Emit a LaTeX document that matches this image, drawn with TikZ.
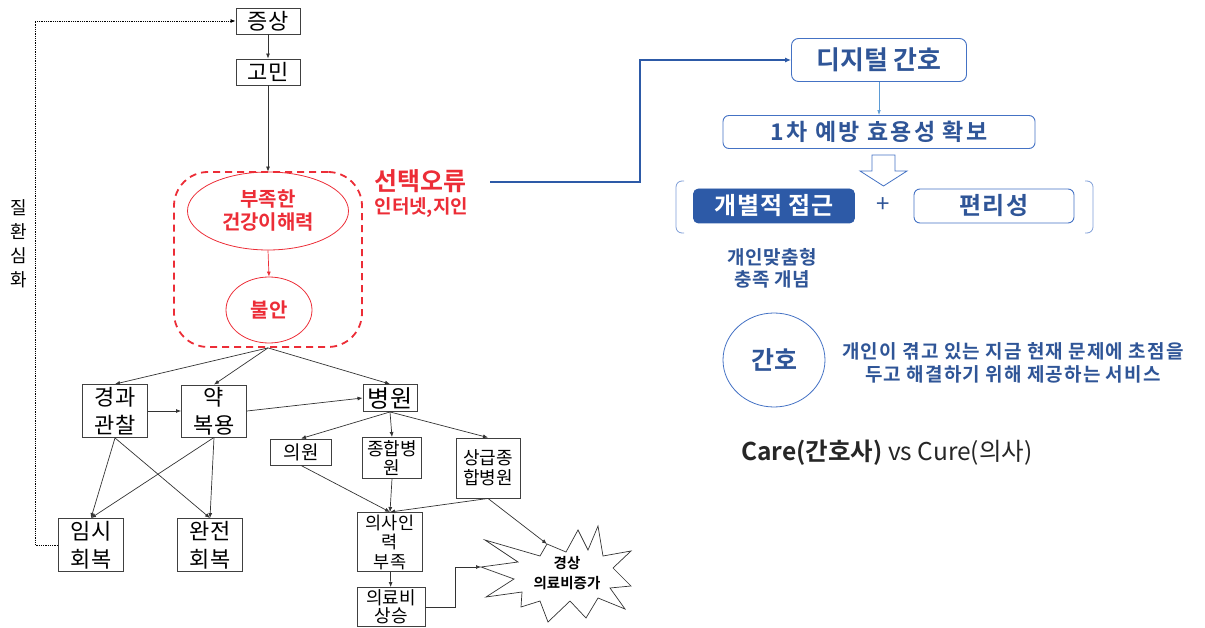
\documentclass[tikz,border=0pt]{standalone}
\usepackage{fontspec}
\setmainfont{Noto Sans CJK KR}[BoldFont={Noto Sans CJK KR Bold}]
\usetikzlibrary{arrows.meta,shapes.geometric,positioning,calc}
\definecolor{errred}{RGB}{236,45,55}
\definecolor{navy}{RGB}{47,85,151}
\definecolor{boxblue}{RGB}{68,114,196}
\definecolor{fillblue}{RGB}{45,90,167}
\definecolor{lineblue}{RGB}{91,155,213}
\tikzset{
  box/.style={
    draw=black!75,
    line width=0.9pt,
    inner sep=0pt,
    align=center,
    font=\fontsize{22}{28}\selectfont
  },
  smallbox/.style={
    box,
    font=\fontsize{18}{19}\selectfont
  },
  conn/.style={
    draw=black!80,
    line width=0.7pt,
    -{Latex[length=5pt,width=4pt]}
  },
  redtxt/.style={
    text=errred,
    font=\bfseries\fontsize{20}{23}\selectfont,
    align=center
  },
  rbox/.style={
    draw=boxblue,
    line width=0.9pt,
    rounded corners=7pt,
    inner sep=0pt,
    text=navy,
    font=\bfseries\fontsize{25}{28}\selectfont
  },
  bluetxt/.style={
    text=navy,
    font=\bfseries\fontsize{19}{22}\selectfont,
    align=center
  }
}
\begin{document}
\begin{tikzpicture}[x=1pt,y=-1pt]
  \useasboundingbox (0,0) rectangle (1205,628);
  % left chain
  \node[box, minimum width=64pt, minimum height=26pt] (sym) at (268,21) {증상};
  \node[box, minimum width=64pt, minimum height=26pt] (worry) at (268,72) {고민};
  \node[draw=errred, dash pattern=on 7pt off 5pt, line width=1.8pt, rounded corners=34pt,
        minimum width=188pt, minimum height=175pt] (err) at (268,259.5) {};
  \node[ellipse, draw=errred, line width=0.8pt, inner sep=0pt, minimum width=161pt,
        minimum height=78pt, redtxt] (lit) at (268,211) {부족한\\건강이해력};
  \node[ellipse, draw=errred, line width=0.8pt, inner sep=0pt, minimum width=86pt,
        minimum height=66pt, redtxt] (anx) at (269,310) {불안};
  \node[anchor=west, text=errred, font=\bfseries\fontsize{25}{27}\selectfont] (sel) at (371,181) {선택오류};
  \node[anchor=west, text=errred, font=\bfseries\fontsize{19}{20}\selectfont] (selsub) at (371,208) {인터넷,지인};
  \draw[conn] (sym) -- (worry);
  \draw[conn] (worry) -- (lit.north);
  \draw[conn, draw=errred] (lit.south) -- (anx.north);

  \node[box, minimum width=65pt, minimum height=53pt] (watch) at (115,411) {경과\\관찰};
  \node[box, minimum width=65pt, minimum height=52pt] (pill) at (214,411) {약\\복용};
  \node[box, minimum width=65pt, minimum height=53pt] (imsi) at (91,545) {임시\\회복};
  \node[box, minimum width=65pt, minimum height=53pt] (full) at (210,545) {완전\\회복};
  \node[box, minimum width=54pt, minimum height=27pt, font=\fontsize{24}{26}\selectfont] (hosp) at (390,398) {병원};
  \draw[conn] (err.south) -- (watch.north);
  \draw[conn] (err.south) -- (pill.north);
  \draw[conn] (err.south) -- (hosp.north);
  \draw[conn] (watch) -- (pill);
  \draw[conn] (pill.east) -- (hosp.west);
  \draw[conn] (watch.south) -- (imsi.north);
  \draw[conn] (watch.south) -- (full.north);
  \draw[conn] (pill.south) -- (imsi.north);
  \draw[conn] (pill.south) -- (full.north);

  % relapse loop
  \coordinate (loop) at (35,545);
  \draw[densely dotted, line width=0.8pt, -{Latex[length=5pt,width=4pt]}] (imsi.west) -- (loop) |- (sym.west);
  \node[align=center, font=\fontsize{18}{24}\selectfont] (worse) at (19,244) {질\\환\\심\\화};

  % hospital branch
  \node[smallbox, minimum width=61pt, minimum height=26pt, font=\fontsize{19}{19}\selectfont] (clinic) at (301,452) {의원};
  \node[smallbox, minimum width=59pt, minimum height=41pt] (general) at (392,458) {종합병\\원};
  \node[smallbox, minimum width=64pt, minimum height=60pt, font=\fontsize{18}{20}\selectfont] (tertiary) at (488,468) {상급종\\합병원};
  \node[smallbox, minimum width=65pt, minimum height=59pt, font=\fontsize{17.5}{19.5}\selectfont] (short) at (390,542) {의사인\\력\\부족};
  \node[smallbox, minimum width=68pt, minimum height=39pt, font=\fontsize{18}{18}\selectfont] (rise) at (391,607) {의료비\\상승};
  \draw[conn] (hosp.south) -- (clinic.north);
  \draw[conn] (hosp.south) -- (general.north);
  \draw[conn] (hosp.south) -- (tertiary.north);
  \draw[conn] (clinic.south) -- (short.north);
  \draw[conn] (general.south) -- (short.north);
  \draw[conn] (tertiary.south) -- (short.north);
  \draw[conn] (short) -- (rise);

  % burst
  \draw[black!80, line width=0.7pt] (485,540) -- (540,556) -- (547,544) -- (566,552) -- (578,530)
    -- (588,550) -- (598,526) -- (603,556) -- (631,551) -- (613,568) -- (631,586) -- (610,588)
    -- (625,609) -- (598,598) -- (586,618) -- (570,601) -- (548,622) -- (540,601) -- (521,607)
    -- (522,592) -- (486,597) -- (514,579) -- (481,567) -- (518,562) -- cycle;
  \node[align=center, font=\bfseries\fontsize{14.5}{20}\selectfont] (cost) at (567,573) {경상\\의료비증가};
  \coordinate (burstup) at (547,544);
  \coordinate (burstleft) at (481,567);
  \draw[conn] (tertiary.south) -- (burstup);
  \draw[conn] (rise.east) -- ++(30,0) |- (burstleft);

  % right side
  \node[rbox, minimum width=175pt, minimum height=43pt, font=\bfseries\fontsize{26}{28}\selectfont] (dig) at (879,60) {디지털 간호};
  \node[rbox, minimum width=312pt, minimum height=33pt, rounded corners=6pt,
        font=\bfseries\fontsize{23}{26}\selectfont\addfontfeatures{LetterSpace=10}] (prev) at (879,132) {1차 예방 효용성 확보};
  \coordinate (selout) at (490,182);
  \draw[fillblue, line width=1.6pt, -{Latex[length=6pt,width=5pt]}] (selout) -- (640,182) |- (dig.west);
  \draw[lineblue, line width=0.6pt, -{Latex[length=5pt,width=3.5pt]}] (dig) -- (prev);
  \draw[boxblue, line width=0.8pt, fill=white] (872,155) -- (895,155) -- (895,171) -- (907,171)
    -- (883.5,186) -- (860,171) -- (872,171) -- cycle;
  \draw[boxblue!70, line width=0.8pt, rounded corners=6pt] (684,181) -- (676,181) -- (676,233) -- (684,233);
  \draw[boxblue!70, line width=0.8pt, rounded corners=6pt] (1085,181) -- (1093,181) -- (1093,233) -- (1085,233);
  \node[rbox, fill=fillblue, draw=fillblue, text=white, minimum width=161pt, minimum height=34pt, rounded corners=5pt,
        font=\bfseries\fontsize{24}{26}\selectfont\addfontfeatures{LetterSpace=4}] (indiv) at (774,206) {개별적 접근};
  \node[text=navy, font=\fontsize{24}{26}\selectfont] (plus) at (883,205) {+};
  \node[rbox, minimum width=160pt, minimum height=34pt, rounded corners=6pt,
        font=\bfseries\fontsize{24}{26}\selectfont\addfontfeatures{LetterSpace=4}] (conv) at (994,206) {편리성};
  \node[bluetxt, font=\bfseries\fontsize{19}{22}\selectfont\addfontfeatures{LetterSpace=3}] (custom) at (772,268) {개인맞춤형\\충족 개념};
  \node[ellipse, draw=boxblue, line width=0.8pt, inner sep=0pt, minimum width=102pt, minimum height=94pt,
        text=navy, font=\bfseries\fontsize{25}{26}\selectfont] (nurse) at (774,360) {간호};
  \node[bluetxt, font=\bfseries\fontsize{19}{23}\selectfont\addfontfeatures{LetterSpace=6}] (desc) at (1013,363)
    {개인이 겪고 있는 지금 현재 문제에 초점을\\두고 해결하기 위해 제공하는 서비스};
  \node[text=black!85, font=\fontsize{24.5}{26}\selectfont] (care) at (887,453) {\textbf{Care(간호사)} vs Cure(의사)};
\end{tikzpicture}
\end{document}
